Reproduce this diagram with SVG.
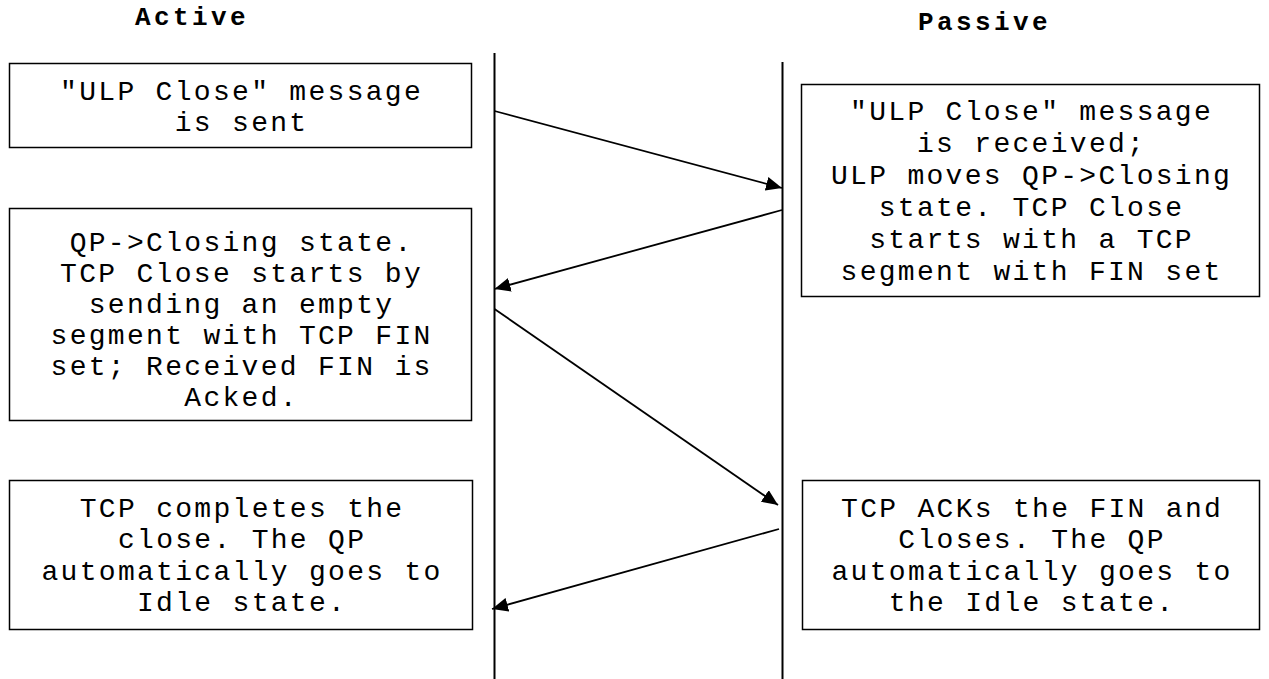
<svg xmlns="http://www.w3.org/2000/svg" width="1269" height="679" viewBox="0 0 1269 679">
  <style>
    .box { fill: #ffffff; stroke: #000000; stroke-width: 1.5; }
    .life { stroke: #000000; stroke-width: 2; fill: none; }
    .msg { stroke: #000000; stroke-width: 1.8; fill: none; marker-end: url(#head); }
    .txt { font-family: "Liberation Mono", "Courier New", monospace; font-size: 28px; letter-spacing: 2.3px; fill: #000000; text-anchor: middle; }
    .title { font-family: "Liberation Mono", "Courier New", monospace; font-size: 26px; letter-spacing: 3.4px; font-weight: bold; fill: #000000; text-anchor: middle; }
  </style>
  <defs>
    <marker id="head" markerWidth="16" markerHeight="14" refX="16" refY="7" orient="auto" markerUnits="userSpaceOnUse">
      <path d="M0,0 L16,7 L0,14 Z" fill="#000000"/>
    </marker>
  </defs>
  <rect width="1269" height="679" fill="#ffffff"/>

  <!-- column headings -->
  <text id="title-active" class="title" x="192" y="25">Active</text>
  <text id="title-passive" class="title" x="984.5" y="30">Passive</text>

  <!-- lifelines -->
  <g id="lifelines">
    <line class="life" x1="494.5" y1="53" x2="494.5" y2="679"/>
    <line class="life" x1="782.5" y1="62" x2="782.5" y2="679"/>
  </g>

  <!-- messages between the two ends -->
  <g id="connectors">
    <line class="msg" x1="494.5" y1="111" x2="782" y2="188"/>
    <line class="msg" x1="782" y1="210" x2="494.5" y2="289"/>
    <line class="msg" x1="494.5" y1="309" x2="778" y2="505"/>
    <line class="msg" x1="779" y1="529" x2="492" y2="609"/>
  </g>

  <g id="active-send">
    <rect class="box" x="9.5" y="63.5" width="462" height="84"/>
    <text class="txt"><tspan x="241.6" y="100">"ULP Close" message</tspan><tspan x="241.6" y="131">is sent</tspan></text>
  </g>

  <g id="passive-receive">
    <rect class="box" x="801.5" y="84.5" width="458" height="212"/>
    <text class="txt"><tspan x="1031.6" y="120">"ULP Close" message</tspan><tspan x="1031.6" y="152">is received;</tspan><tspan x="1031.6" y="184">ULP moves QP-&gt;Closing</tspan><tspan x="1031.6" y="216">state. TCP Close</tspan><tspan x="1031.6" y="248">starts with a TCP</tspan><tspan x="1031.6" y="280">segment with FIN set</tspan></text>
  </g>

  <g id="active-closing">
    <rect class="box" x="9.5" y="208.5" width="462" height="212"/>
    <text class="txt"><tspan x="241.6" y="251">QP-&gt;Closing state.</tspan><tspan x="241.6" y="282">TCP Close starts by</tspan><tspan x="241.6" y="313">sending an empty</tspan><tspan x="241.6" y="344">segment with TCP FIN</tspan><tspan x="241.6" y="375">set; Received FIN is</tspan><tspan x="241.6" y="406">Acked.</tspan></text>
  </g>

  <g id="active-idle">
    <rect class="box" x="9.5" y="480.5" width="463" height="149"/>
    <text class="txt"><tspan x="242.1" y="517">TCP completes the</tspan><tspan x="242.1" y="548">close. The QP</tspan><tspan x="242.1" y="580">automatically goes to</tspan><tspan x="242.1" y="611">Idle state.</tspan></text>
  </g>

  <g id="passive-idle">
    <rect class="box" x="802.5" y="480.5" width="457" height="149"/>
    <text class="txt"><tspan x="1032.1" y="517">TCP ACKs the FIN and</tspan><tspan x="1032.1" y="548">Closes. The QP</tspan><tspan x="1032.1" y="580">automatically goes to</tspan><tspan x="1032.1" y="611">the Idle state.</tspan></text>
  </g>
</svg>
